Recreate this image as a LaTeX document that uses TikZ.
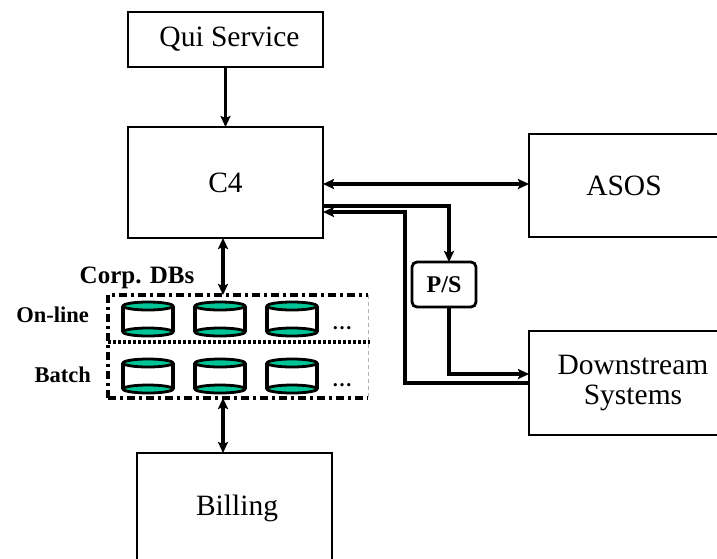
\documentclass[tikz,border=0pt]{standalone}
\usepackage{fontspec}
\setmainfont{Liberation Serif}
\usetikzlibrary{arrows.meta}
\definecolor{dbteal}{RGB}{0,196,150}
\begin{document}
\begin{tikzpicture}[x=1pt,y=-1pt,
  box/.style={draw, line width=2.8pt, inner sep=0pt, outer sep=0pt, font=\fontsize{29.5}{30}\selectfont, align=center},
  psbox/.style={draw, line width=2.8pt, rounded corners=5pt, inner sep=0pt, outer sep=0pt, minimum width=64pt, minimum height=45pt, font=\fontsize{24}{25}\selectfont\bfseries},
  arr/.style={line width=3.2pt, -{Stealth[length=11pt,width=10pt,inset=2pt]}},
  arrtwo/.style={line width=3.2pt, {Stealth[length=11pt,width=10pt,inset=2pt]}-{Stealth[length=11pt,width=10pt,inset=2pt]}},
  lbl/.style={font=\fontsize{22.5}{24}\selectfont\bfseries, inner sep=0pt},
  dashdotline/.style={line width=3.2pt, dash pattern=on 8pt off 4pt on 3pt off 4pt},
  dotline/.style={line width=3.2pt, dash pattern=on 3pt off 2pt},
  dbcyl/.pic={
    \draw[line width=3.2pt] (-25,0) -- (-25,26);
    \draw[line width=3.2pt] (25,0) -- (25,26);
    \draw[line width=2.8pt, fill=dbteal] (0,26) ellipse (25 and 4);
    \draw[line width=2.8pt, fill=dbteal] (0,0) ellipse (25 and 4);
  }]
\useasboundingbox (0,0) rectangle (717,558);

\node[box, minimum width=195pt, minimum height=55pt] (qui) at (225.5,39.5) {\hspace*{8pt}Qui Service};
\node[box, minimum width=195pt, minimum height=111pt] (c4) at (225.5,182.5) {C4};
\node[box, minimum width=200pt, minimum height=103pt] (asos) at (629,185.5) {\hspace*{-10pt}ASOS};
\node[box, minimum width=208pt, minimum height=104pt] (down) at (633,383) {Downstream\\Systems};
\node[box, minimum width=195pt, minimum height=110pt] (billing) at (234.5,508) {\hspace*{5pt}Billing};
\node[psbox] (ps) at (444,284.5) {P/S};

% DB group
\node[minimum width=260pt, minimum height=103pt, inner sep=0pt, outer sep=0pt] (db) at (238,346.5) {};
\draw[dashdotline] (db.south west) -- (db.north west) -- (db.north east);
\draw[dashdotline] (db.south west) -- (db.south east);
\draw[gray!60, line width=0.9pt, dash pattern=on 4pt off 3pt] (db.north east) -- (db.south east);
\draw[dotline] ([yshift=4.5pt]db.west) -- ([xshift=2pt,yshift=4.5pt]db.east);

\foreach \cx in {148,220,292} {
  \pic at (\cx,306) {dbcyl};
  \pic at (\cx,363) {dbcyl};
}
\node[font=\fontsize{20}{20}\selectfont\bfseries, inner sep=0pt] (dots1) at (342,328) {\dots};
\node[font=\fontsize{20}{20}\selectfont\bfseries, inner sep=0pt] (dots2) at (342,385) {\dots};

\node[lbl, font=\fontsize{25}{26}\selectfont\bfseries] (corp) at (137,278) {Corp. DBs};
\node[lbl, anchor=east] (online) at (89,315) {On-line};
\node[lbl, anchor=east] (batch) at (91,375) {Batch};

% connectors
\draw[arr] (qui.south) -- (c4.north);
\draw[arrtwo] (c4.east |- 0,184) -- (asos.west |- 0,184);
\draw[arr] ([yshift=-23.5pt]c4.east) -| ([xshift=5pt]ps.north);
\coordinate (j1) at (405,383);
\draw[arr] (down.west) -- (j1) |- ([yshift=-29.5pt]c4.east);
\draw[arr] ([xshift=5pt]ps.south) |- ([yshift=9pt]down.west);
\draw[arrtwo] ([xshift=-2.5pt]c4.south) -- ([xshift=-15pt]db.north);
\draw[arrtwo] ([xshift=-15pt]db.south) -- ([xshift=-11.5pt]billing.north);
\end{tikzpicture}
\end{document}
